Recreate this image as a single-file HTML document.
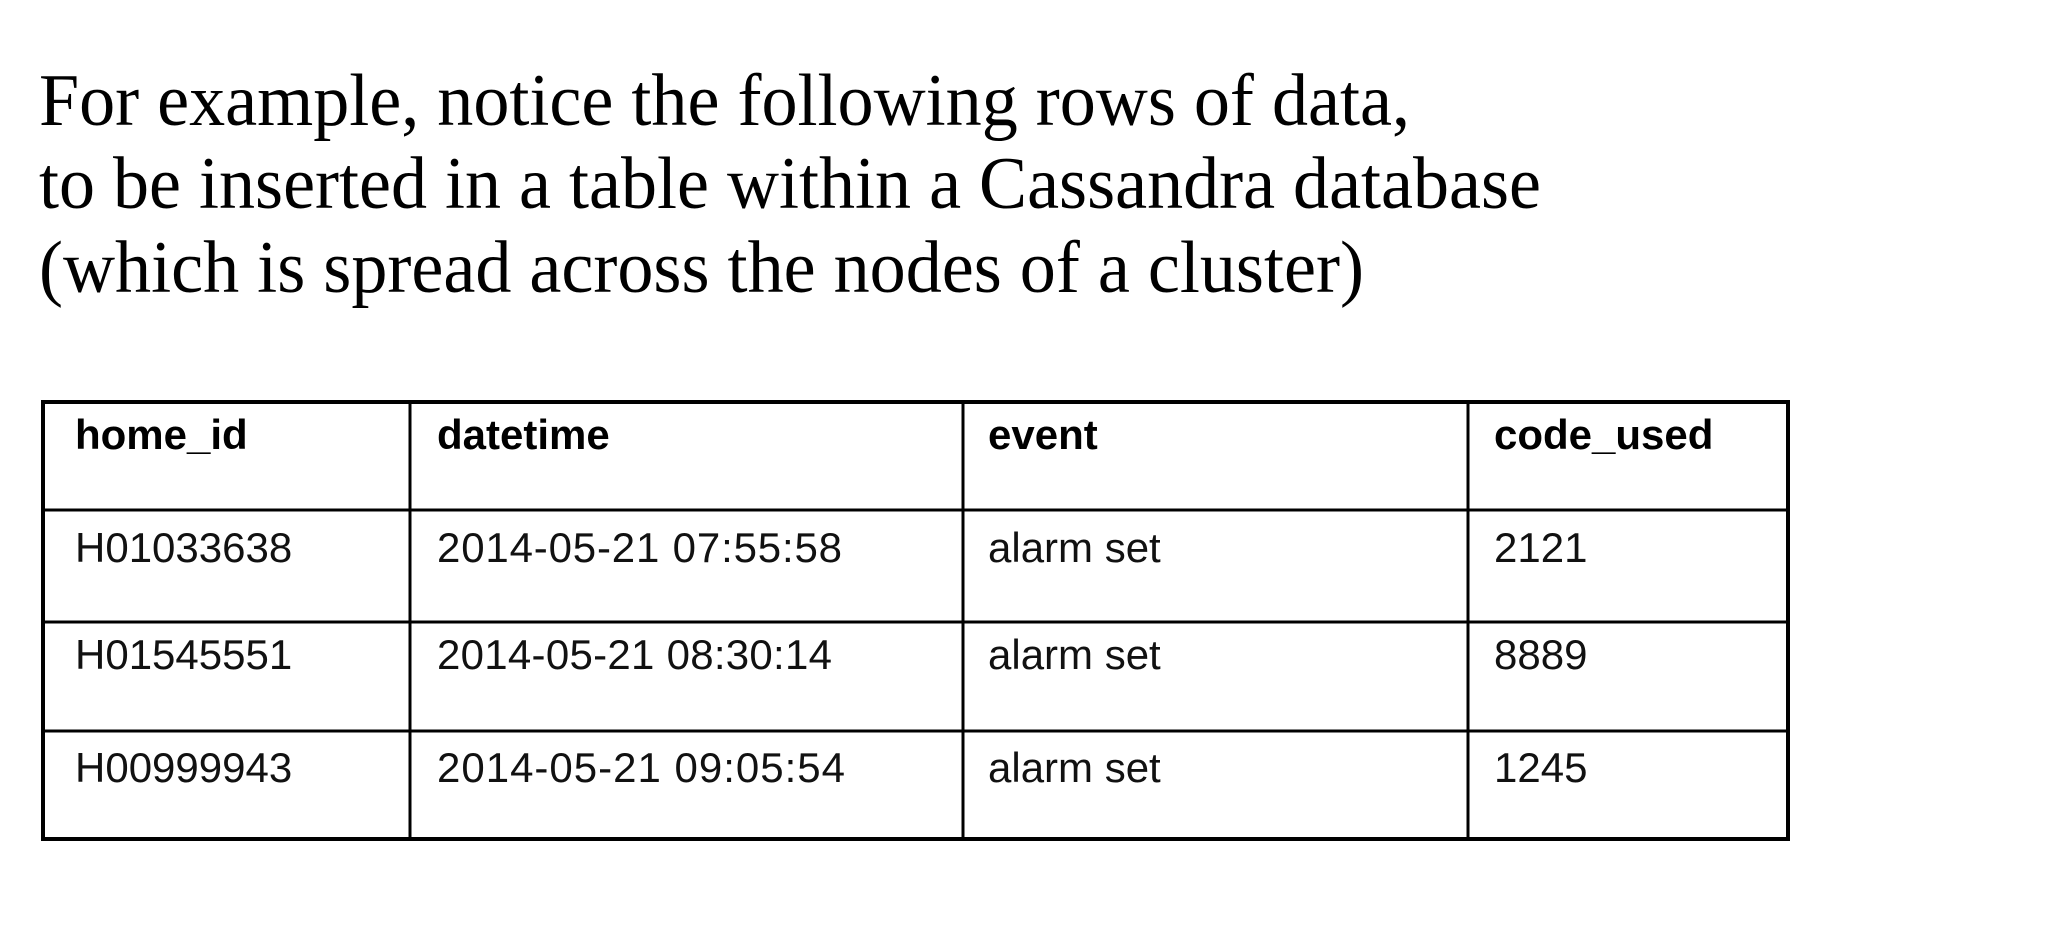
<!DOCTYPE html>
<html><head><meta charset="utf-8"><style>
html,body{margin:0;padding:0;background:#fff;width:2062px;height:944px;overflow:hidden}
svg{display:block}
.h{font-family:"Liberation Serif",serif;font-size:74px;fill:#000}
.th{font-family:"Liberation Sans",sans-serif;font-size:42px;font-weight:bold;fill:#000}
.td{font-family:"Liberation Sans",sans-serif;font-size:42px;fill:#111}
</style></head><body>
<svg width="2062" height="944" viewBox="0 0 2062 944">
<g>
<text class="h" x="39" y="125" textLength="1371" lengthAdjust="spacingAndGlyphs">For example, notice the following rows of data,</text>
<text class="h" x="39" y="208" textLength="1502" lengthAdjust="spacingAndGlyphs">to be inserted in a table within a Cassandra database</text>
<text class="h" x="39" y="292" textLength="1325" lengthAdjust="spacingAndGlyphs">(which is spread across the nodes of a cluster)</text>
</g>
<g stroke="#000" stroke-width="3" fill="none">
<rect x="43" y="402" width="1745" height="437" stroke-width="4"/>
<line x1="43" y1="510" x2="1788" y2="510"/>
<line x1="43" y1="622" x2="1788" y2="622"/>
<line x1="43" y1="731" x2="1788" y2="731"/>
<line x1="410" y1="402" x2="410" y2="839"/>
<line x1="963" y1="402" x2="963" y2="839"/>
<line x1="1468" y1="402" x2="1468" y2="839"/>
</g>
<g>
<text class="th" x="75" y="449">home_id</text>
<text class="th" x="437" y="449">datetime</text>
<text class="th" x="988" y="449">event</text>
<text class="th" x="1494" y="449">code_used</text>
</g>
<g>
<text class="td" x="75" y="562">H01033638</text>
<text class="td" x="437" y="562" textLength="405">2014-05-21 07:55:58</text>
<text class="td" x="988" y="562">alarm set</text>
<text class="td" x="1494" y="562">2121</text>
</g>
<g>
<text class="td" x="75" y="669">H01545551</text>
<text class="td" x="437" y="669" textLength="395">2014-05-21 08:30:14</text>
<text class="td" x="988" y="669">alarm set</text>
<text class="td" x="1494" y="669">8889</text>
</g>
<g>
<text class="td" x="75" y="782">H00999943</text>
<text class="td" x="437" y="782" textLength="408">2014-05-21 09:05:54</text>
<text class="td" x="988" y="782">alarm set</text>
<text class="td" x="1494" y="782">1245</text>
</g>
</svg>
</body></html>
